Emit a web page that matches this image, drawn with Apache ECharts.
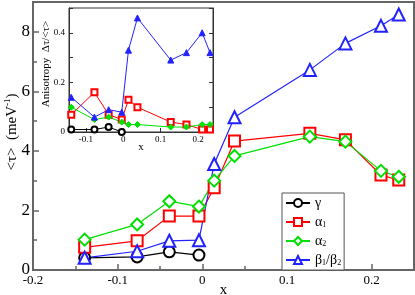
<!DOCTYPE html>
<html><head><meta charset="utf-8">
<script src="https://cdn.jsdelivr.net/npm/echarts@6/dist/echarts.min.js"></script>
<style>html,body{margin:0;padding:0;background:#fff}#c{width:415px;height:295px}</style>
</head><body><div id="c"></div>
<script>
// x values (composition)
var xAll = [-0.139, -0.077, -0.039, -0.004, 0.014, 0.038, 0.127, 0.169, 0.211, 0.232];
var xGamma = [-0.139, -0.077, -0.039, -0.004];
// main panel <tau> (meV^-1)
var tauGamma = [0.41, 0.44, 0.61, 0.50];
var tauAlpha1 = [0.76, 0.98, 1.81, 1.81, 2.76, 4.33, 4.59, 4.37, 3.19, 3.02];
var tauAlpha2 = [1.02, 1.53, 2.31, 2.13, 3.00, 3.83, 4.48, 4.31, 3.33, 3.13];
var tauBeta = [0.41, 0.63, 0.98, 1.00, 3.56, 5.13, 6.72, 7.61, 8.20, 8.58];
// inset anisotropy
var anGamma = [0.01, 0.01, 0.02, 0.0];
var anAlpha1 = [0.07, 0.16, 0.07, 0.05, 0.13, 0.10, 0.04, 0.03, 0.01, 0.01];
var anAlpha2 = [0.10, 0.05, 0.06, 0.04, 0.03, 0.03, 0.02, 0.02, 0.03, 0.03];
var anBeta = [0.14, 0.06, 0.09, 0.08, 0.33, 0.46, 0.29, 0.32, 0.40, 0.32];
var insetXTicks = [-0.1, 0, 0.1, 0.2];
var insetYLabels = [0, 0.2, 0.4];
var names = ['γ', 'α1', 'α2', 'β1/β2'];

function pairs(xs, ys) { return xs.map(function (x, i) { return [x, ys[i]]; }); }
function fmt(v) { var r = Math.round(v * 100) / 100; return String(r); }

var serif = 'Liberation Serif';
var colors = ['#000000', '#ff0000', '#00e000', '#2222ff'];
var mainSym = ['emptyCircle', 'emptyRect', 'emptyDiamond', 'emptyTriangle'];
var mainSize = [11, 11, 12, 12];
var mainData = [pairs(xGamma, tauGamma), pairs(xAll, tauAlpha1), pairs(xAll, tauAlpha2), pairs(xAll, tauBeta)];
var insSym = ['emptyCircle', 'emptyRect', 'diamond', 'triangle'];
var insData = [pairs(xGamma, anGamma), pairs(xAll, anAlpha1), pairs(xAll, anAlpha2), pairs(xAll, anBeta)];

var series = [];
for (var i = 0; i < 4; i++) {
  series.push({
    name: names[i], type: 'line', xAxisIndex: 0, yAxisIndex: 0, data: mainData[i],
    symbol: mainSym[i], symbolSize: mainSize[i], z: 3,
    lineStyle: { color: colors[i], width: 1.2 },
    itemStyle: { color: colors[i], borderColor: colors[i], borderWidth: 1.2 },
    animation: false
  });
}
for (var j = 0; j < 4; j++) {
  series.push({
    name: 'inset' + j, type: 'line', xAxisIndex: 1, yAxisIndex: 1, data: insData[j],
    symbol: insSym[j], symbolSize: 6, z: 5,
    lineStyle: { color: colors[j], width: 1 },
    itemStyle: { color: colors[j], borderColor: colors[j], borderWidth: 1 },
    animation: false
  });
}

var rich = {
  n: { fontFamily: serif, fontSize: 14, color: '#000' },
  s: { fontFamily: serif, fontSize: 8, color: '#000', verticalAlign: 'bottom', padding: [6, 0, 0, 0] }
};

var chart = echarts.init(document.getElementById('c'), null, { renderer: 'canvas' });
chart.setOption({
  backgroundColor: '#fff',
  animation: false,
  grid: [
    { left: 33, top: 2, width: 381, height: 268, outerBoundsMode: 'none', containLabel: false, show: true, borderColor: '#666', borderWidth: 2, backgroundColor: 'transparent' },
    { left: 69, top: 8, width: 144, height: 124, outerBoundsMode: 'none', containLabel: false, show: true, borderColor: '#333', borderWidth: 1, backgroundColor: 'transparent' }
  ],
  graphic: [
    {
      id: 'ytitle', type: 'text', x: 12, y: 132, rotation: Math.PI / 2, z: 20,
      style: {
        text: '<τ>  (meV{sup|-1})', fill: '#000', fontFamily: serif, fontSize: 15,
        align: 'center', verticalAlign: 'middle',
        rich: { sup: { fontFamily: serif, fontSize: 9, fill: '#000', verticalAlign: 'top', padding: [0, 0, 8, 0] } }
      }
    },
    {
      id: 'insetytitle', type: 'text', x: 46, y: 64, rotation: Math.PI / 2, z: 20,
      style: {
        text: 'Anisotropy  Δτ/<τ>', fill: '#000', fontFamily: serif, fontSize: 11,
        align: 'center', verticalAlign: 'middle'
      }
    }
  ],
  legend: {
    data: names, orient: 'vertical', left: 282, top: 193,
    itemWidth: 24, itemHeight: 10, itemGap: 5, padding: [3, 3, 3, 3],
    borderColor: '#555', borderWidth: 1, backgroundColor: '#fff',
    z: 10,
    formatter: function (n) {
      if (n === 'α1') return '{n|α}{s|1}';
      if (n === 'α2') return '{n|α}{s|2}';
      if (n === 'β1/β2') return '{n|β}{s|1}{n|/β}{s|2}';
      return '{n|γ}';
    },
    textStyle: { rich: rich, fontFamily: serif, fontSize: 14 }
  },
  xAxis: [
    {
      type: 'value', gridIndex: 0, min: -0.2, max: 0.25, interval: 0.1,
      name: 'x', nameLocation: 'middle', nameGap: 13, nameMoveOverlap: false,
      nameTextStyle: { fontFamily: serif, fontSize: 15, color: '#000' },
      axisLine: { show: true, onZero: false, lineStyle: { color: '#666', width: 2 } },
      axisTick: { show: true, inside: true, length: 6, lineStyle: { color: '#666', width: 1.5 } },
      minorTick: { show: true, splitNumber: 2, length: 4, lineStyle: { color: '#666', width: 1.5 } },
      splitLine: { show: false },
      axisLabel: { fontFamily: serif, fontSize: 13, color: '#000', margin: 4, showMaxLabel: false, formatter: fmt }
    },
    {
      type: 'value', gridIndex: 1, min: -0.145, max: 0.24,
      name: 'x', nameLocation: 'middle', nameGap: 10, nameMoveOverlap: false,
      nameTextStyle: { fontFamily: serif, fontSize: 11, color: '#000' },
      axisLine: { show: true, onZero: false, lineStyle: { color: '#333', width: 1 } },
      axisTick: { show: true, inside: true, length: 4, lineStyle: { color: '#333' }, customValues: insetXTicks },
      minorTick: { show: false },
      splitLine: { show: false },
      axisLabel: { fontFamily: serif, fontSize: 9, color: '#000', margin: 3, customValues: insetXTicks, formatter: fmt }
    }
  ],
  yAxis: [
    {
      type: 'value', gridIndex: 0, min: 0, max: 9, interval: 2,
      axisLine: { show: true, onZero: false, lineStyle: { color: '#666', width: 2 } },
      axisTick: { show: true, inside: true, length: 6, lineStyle: { color: '#666', width: 1.5 } },
      minorTick: { show: true, splitNumber: 2, length: 4, lineStyle: { color: '#666', width: 1.5 } },
      splitLine: { show: false },
      axisLabel: { fontFamily: serif, fontSize: 17, color: '#000', margin: 3, showMaxLabel: false, hideOverlap: false }
    },
    {
      type: 'value', gridIndex: 1, min: 0, max: 0.5, interval: 0.1,
      axisLine: { show: true, onZero: false, lineStyle: { color: '#333', width: 1 } },
      axisTick: { show: true, inside: true, length: 4, lineStyle: { color: '#333' } },
      minorTick: { show: false },
      splitLine: { show: false },
      axisLabel: { show: false }
    },
    {
      type: 'value', gridIndex: 1, min: 0, max: 0.5, interval: 0.1, position: 'right',
      axisLine: { show: true, onZero: false, lineStyle: { color: '#333', width: 1 } },
      axisTick: { show: true, inside: true, length: 4, lineStyle: { color: '#333' } },
      minorTick: { show: false },
      splitLine: { show: false },
      axisLabel: { show: false }
    }
  ],
  series: series
});

// inset y tick labels, positioned through the inset axis scale
var insetLeft = chart.convertToPixel({ xAxisIndex: 1 }, -0.145);
var extra = insetYLabels.map(function (v, k) {
  var py = chart.convertToPixel({ yAxisIndex: 1 }, v);
  return {
    id: 'iyl' + k, type: 'text', x: insetLeft - 4, y: py, z: 20,
    style: { text: fmt(v), fill: '#000', fontFamily: serif, fontSize: 9, align: 'right', verticalAlign: 'middle' }
  };
});
chart.setOption({ graphic: extra });
</script>
</body></html>
